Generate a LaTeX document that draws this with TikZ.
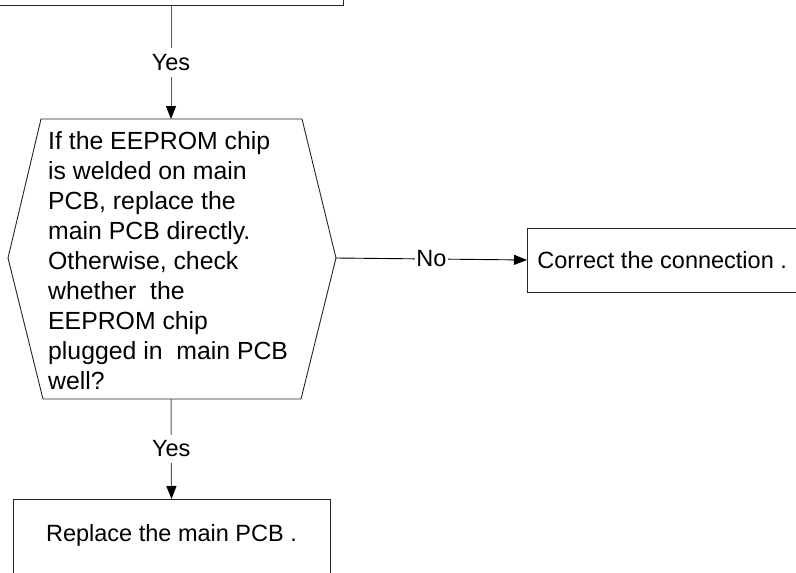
\documentclass[tikz,border=0pt]{standalone}
\usepackage{fontspec}
\setmainfont{Liberation Sans}
\usetikzlibrary{arrows.meta}
\begin{document}
\begin{tikzpicture}[x=1pt,y=1pt,
  every node/.style={font=\fontsize{23.5}{30.2}\selectfont},
  box/.style={draw=black!85, line width=0.9pt, fill=white},
  hexline/.style={draw=black!85, line width=0.9pt},
  hextext/.style={anchor=north west, inner sep=0pt, align=left, font=\fontsize{24.8}{30.1}\selectfont},
  conn/.style={draw=black!65, line width=1pt, -{Triangle[length=13pt,width=10pt,color=black]}},
  connh/.style={draw=black, line width=0.9pt, -{Triangle[length=13pt,width=10pt,color=black]}},
  lbl/.style={fill=white, inner xsep=1pt, inner ysep=6pt}]
\useasboundingbox (0,0) rectangle (796,-573);
\clip (0,0) rectangle (796,-573);
\fill[white] (0,0) rectangle (796,-573);

% top box (mostly outside)
\node[box, anchor=south, minimum width=344pt, minimum height=80pt] (top) at (171,-6) {};

% hexagon decision
\draw[hexline] (41,-119) -- (302,-119) -- (336,-258) -- (301,-399) -- (43,-399) -- (8,-258) -- cycle;
\coordinate (hT) at (171,-119);
\coordinate (hR) at (336,-258);
\coordinate (hB) at (171,-399);
\node[hextext] (q) at (48,-131)
  {If the EEPROM chip\\is welded on main\\PCB, replace the\\main PCB directly.\\Otherwise, check\\whether\ \ the\\EEPROM chip\\plugged in\ \ main PCB\\well?};

% right box
\node[box, anchor=west, inner xsep=10pt, minimum height=64pt] (cor) at (527,-260) {Correct the connection .};

% bottom box
\node[box, anchor=north, minimum width=317pt, inner ysep=25pt, text height=17pt, text depth=24pt] (rep) at (171.5,-499) {Replace the main PCB .};

% connectors
\draw[conn] (top.south) -- node[lbl] {Yes} (hT);
\draw[conn] (hB) -- node[lbl] {Yes} (rep.north);
\draw[connh] (hR) -- node[lbl, inner ysep=2pt] {No} (cor.west);
\end{tikzpicture}
\end{document}
